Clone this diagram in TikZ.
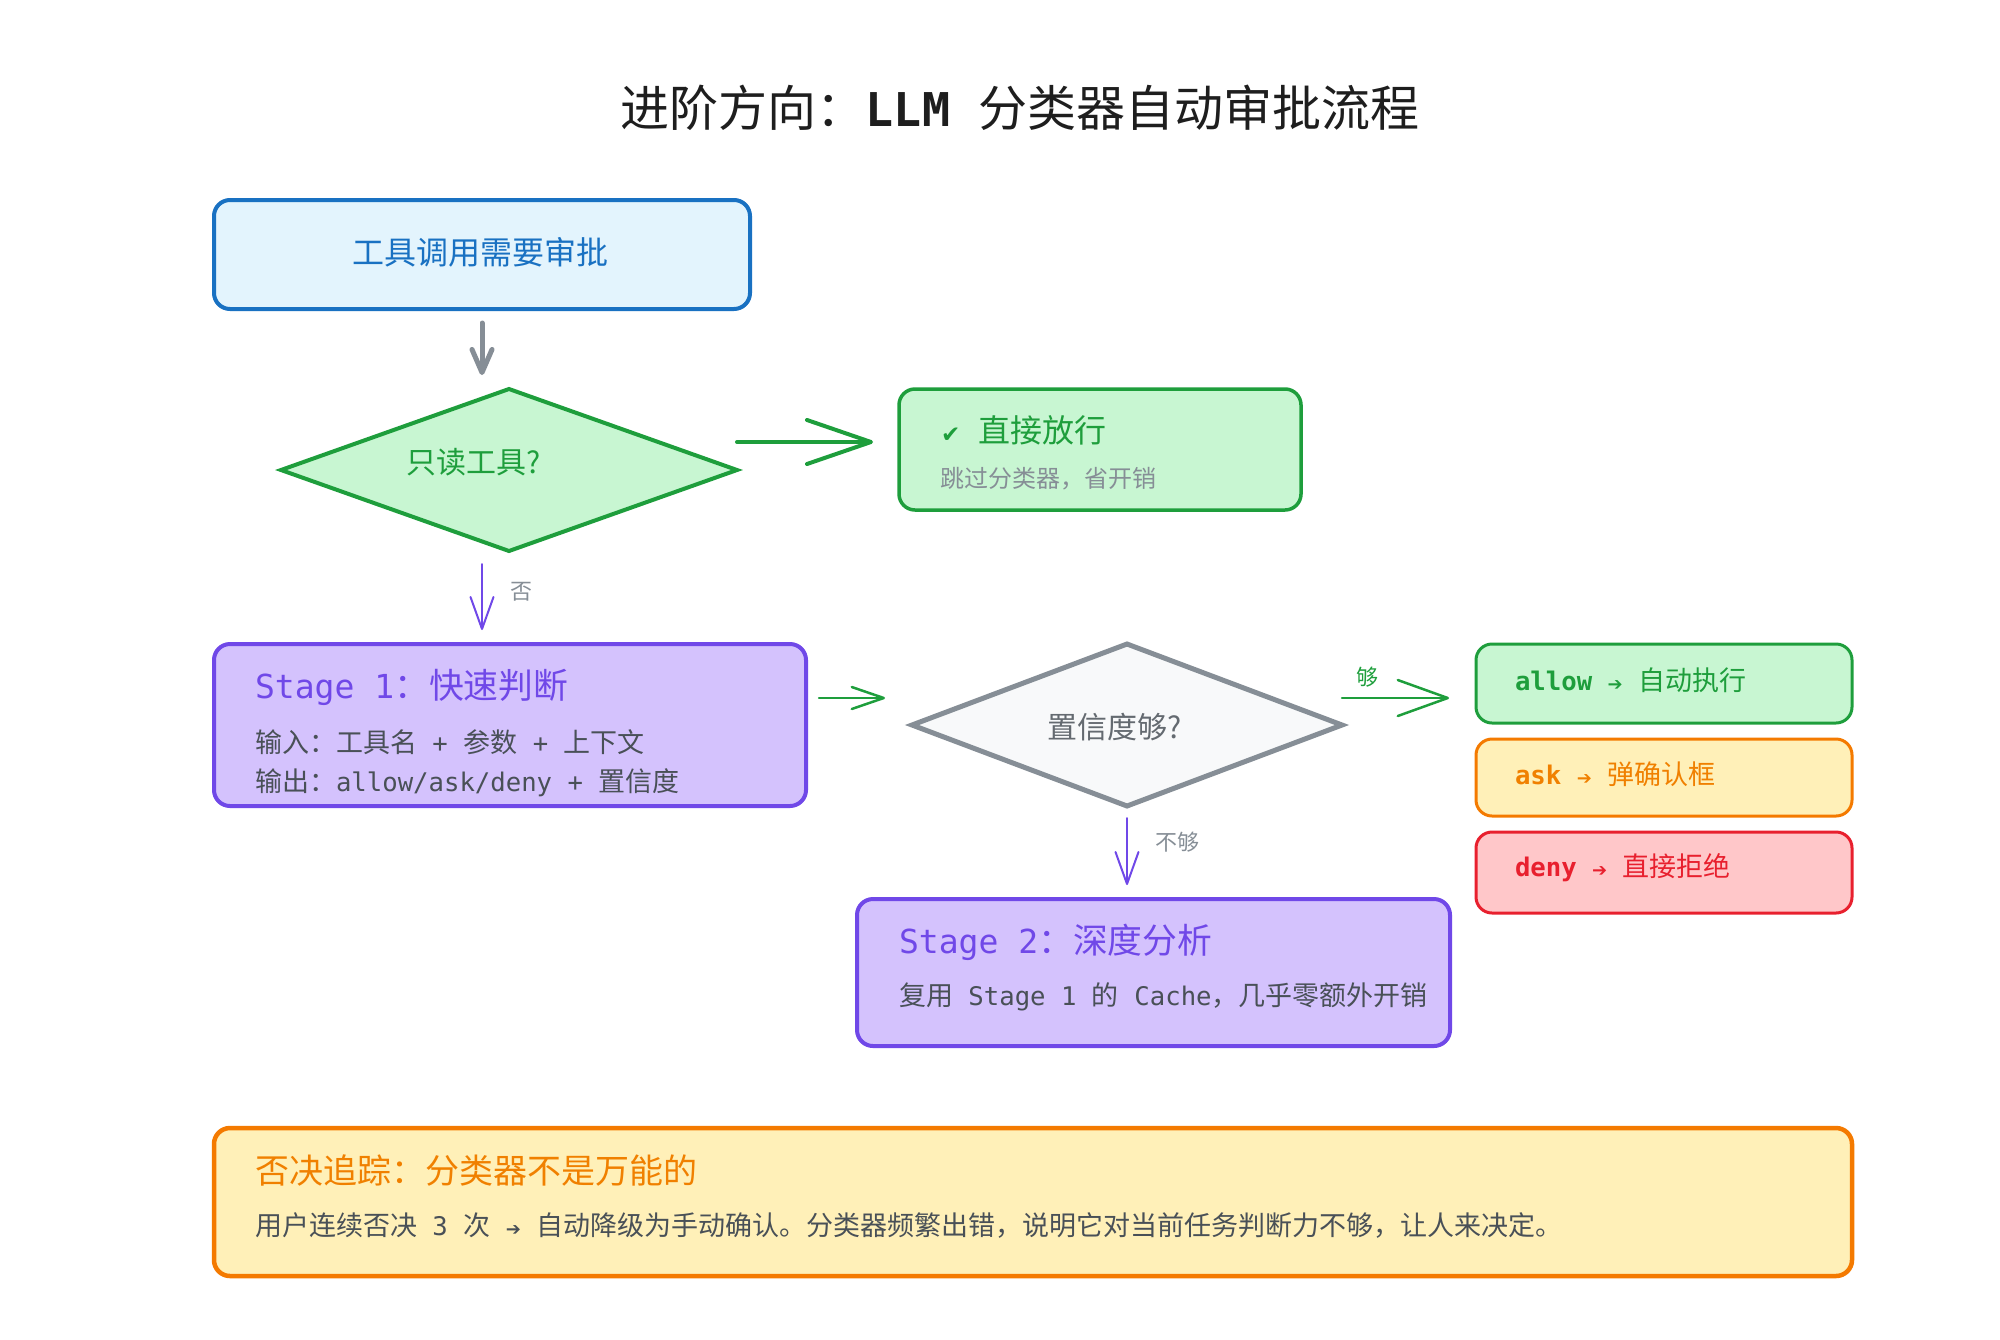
\documentclass[tikz,border=0pt]{standalone}
\usepackage{fontspec}
\setmainfont{Noto Sans CJK SC}
\newfontfamily\mono[Scale=0.95]{DejaVu Sans Mono}
\newfontfamily\dejavu{DejaVu Sans}
\usetikzlibrary{arrows.meta,shapes.geometric,calc}
\definecolor{bluestroke}{HTML}{1971C2}
\definecolor{bluefill}{HTML}{E3F4FD}
\definecolor{greenstroke}{HTML}{1E9E3C}
\definecolor{greenfill}{HTML}{C8F6D2}
\definecolor{greentext}{HTML}{1E9E3C}
\definecolor{purplestroke}{HTML}{7048E8}
\definecolor{purplefill}{HTML}{D4C2FD}
\definecolor{graystroke}{HTML}{868E96}
\definecolor{grayfill}{HTML}{F8F9FA}
\definecolor{orangestroke}{HTML}{F47A00}
\definecolor{orangefill}{HTML}{FFF0B8}
\definecolor{orangetext}{HTML}{F08000}
\definecolor{redstroke}{HTML}{E8202E}
\definecolor{redfill}{HTML}{FFC7C9}
\definecolor{redtext}{HTML}{E8202E}
\definecolor{bodytext}{HTML}{495057}
\definecolor{labeltext}{HTML}{868E96}
\definecolor{titletext}{HTML}{1E1E1E}
\newcommand{\smallarr}{{\dejavu\fontsize{9}{9}\selectfont ➔}}
\tikzset{
  box/.style={draw, rounded corners=8pt, inner sep=0pt, outer sep=0pt},
  dia/.style={draw, diamond, inner sep=0pt, outer sep=0pt},
  txt/.style={inner sep=0pt, outer sep=0pt},
  ltxt/.style={inner sep=0pt, outer sep=0pt, anchor=west},
  fs/.style={font=\fontsize{#1}{#1}\selectfont},
  grayarrow/.style={draw=graystroke, line width=2.5pt, line cap=round,
    -{Straight Barb[length=11.5pt,width=10pt,round]}},
  bigarrow/.style={draw=greenstroke, line width=2pt, line cap=round,
    -{Straight Barb[length=32pt,width=22pt,round]}},
  smallgreen/.style={draw=greenstroke, line width=1.25pt, line cap=round,
    -{Straight Barb[length=16pt,width=11pt,round]}},
  enougharrow/.style={draw=greenstroke, line width=1.25pt, line cap=round,
    -{Straight Barb[length=25pt,width=18pt,round]}},
  purplearrow/.style={draw=purplestroke, line width=1pt, line cap=round,
    -{Straight Barb[length=16pt,width=11.5pt,round]}},
}
\begin{document}
\begin{tikzpicture}[x=0.5pt,y=-0.5pt]
\useasboundingbox (0,0) rectangle (2000,1339);

% title
\node[txt, fs=24.5, text=titletext] (title) at (1020,108)
  {进阶方向：{\mono\bfseries LLM }分类器自动审批流程};

% top box
\node[box, draw=bluestroke, fill=bluefill, line width=2pt,
  minimum width=268pt, minimum height=54.5pt] (top) at (482,254.5) {};
\node[txt, fs=16, text=bluestroke] (toptxt) at (480,252) {工具调用需要审批};

% diamond 1
\node[dia, draw=greenstroke, fill=greenfill, line width=2pt,
  minimum width=228pt, minimum height=81pt] (d1) at (509,470) {};
\node[txt, fs=15, text=greentext] (d1txt) at (474,462) {只读工具?};

% green pass box
\node[box, draw=greenstroke, fill=greenfill, line width=1.75pt,
  minimum width=201pt, minimum height=60.5pt] (pass) at (1100,449.5) {};
\node[ltxt, fs=16, text=greentext] (passtxt) at (941,430)
  {{\dejavu\bfseries\fontsize{11.5}{11.5}\selectfont ✔}\hspace{9pt}直接放行};
\node[ltxt, fs=12, text=labeltext] (passsub) at (940,479) {跳过分类器，省开销};

% stage 1
\node[box, draw=purplestroke, fill=purplefill, line width=2pt,
  minimum width=296pt, minimum height=81pt] (s1) at (510,725) {};
\node[ltxt, fs=17.4, text=purplestroke] (s1title) at (255,687)
  {{\mono Stage 1}：快速判断};
\node[ltxt, fs=13.5, text=bodytext] (s1in) at (255,742)
  {输入：工具名{\mono\ +\ }参数{\mono\ +\ }上下文};
\node[ltxt, fs=13.5, text=bodytext] (s1out) at (255,783)
  {输出：{\mono allow/ask/deny + }置信度};

% diamond 2
\node[dia, draw=graystroke, fill=grayfill, line width=2.5pt,
  minimum width=215pt, minimum height=81pt] (d2) at (1127,725) {};
\node[txt, fs=15, text=bodytext!85] (d2txt) at (1115,727) {置信度够?};

% result boxes
\node[box, draw=greenstroke, fill=greenfill, line width=1.5pt,
  minimum width=188pt, minimum height=39.5pt] (allow) at (1664,683.5) {};
\node[ltxt, fs=13.5, text=greentext] (allowtxt) at (1515,680)
  {{\mono\bfseries allow\ }\smallarr{\mono\ }自动执行};
\node[box, draw=orangestroke, fill=orangefill, line width=1.5pt,
  minimum width=188pt, minimum height=38.5pt] (ask) at (1664,777.5) {};
\node[ltxt, fs=13.5, text=orangetext] (asktxt) at (1515,774)
  {{\mono\bfseries ask\ }\smallarr{\mono\ }弹确认框};
\node[box, draw=redstroke, fill=redfill, line width=1.5pt,
  minimum width=188pt, minimum height=40.5pt] (deny) at (1664,872.5) {};
\node[ltxt, fs=13.5, text=redtext] (denytxt) at (1515,868)
  {{\mono\bfseries deny\ }\smallarr{\mono\ }直接拒绝};

% stage 2
\node[box, draw=purplestroke, fill=purplefill, line width=2pt,
  minimum width=296.5pt, minimum height=73.5pt] (s2) at (1153.5,972.5) {};
\node[ltxt, fs=17.4, text=purplestroke] (s2title) at (899,942)
  {{\mono Stage 2}：深度分析};
\node[ltxt, fs=13.5, text=bodytext] (s2sub) at (899,997)
  {复用{\mono\ Stage 1 }的{\mono\ Cache}，几乎零额外开销};

% bottom note
\node[box, draw=orangestroke, fill=orangefill, line width=2.25pt,
  minimum width=819pt, minimum height=74pt] (note) at (1033,1202) {};
\node[ltxt, fs=17, text=orangetext] (notetitle) at (255,1171)
  {否决追踪：分类器不是万能的};
\node[ltxt, fs=13.5, text=bodytext] (notebody) at (255,1225)
  {用户连续否决{\mono\ 3 }次{\mono\ }\smallarr{\mono\ }自动降级为手动确认。分类器频繁出错，说明它对当前任务判断力不够，让人来决定。};

% connectors
\draw[grayarrow, shorten <=7pt, shorten >=7pt] (top.south) -- (top.south |- d1.north);
\draw[bigarrow] ([yshift=3.75pt]pass.west -| d1.east) -- ([yshift=3.75pt,xshift=-13pt]pass.west);
\draw[purplearrow, shorten <=6.5pt, shorten >=7pt] (top.south |- d1.south) -- (top.south |- s1.north);
\node[txt, fs=11, text=labeltext] (nolbl) at (521,592) {否};
\draw[smallgreen] ([yshift=13.5pt,xshift=6.5pt]s1.east) -- ([yshift=13.5pt,xshift=-13.5pt]d2.west);
\draw[enougharrow, shorten >=13.5pt] ([yshift=13.5pt]d2.east) -- ([yshift=13.5pt]d2.east -| allow.west);
\node[txt, fs=11, text=greentext] (oklbl) at (1367,677) {够};
\draw[purplearrow, shorten <=6pt, shorten >=7pt] (d2.south) -- (d2.south |- s2.north);
\node[txt, fs=11, text=labeltext] (notoklbl) at (1177,842) {不够};
\end{tikzpicture}
\end{document}
